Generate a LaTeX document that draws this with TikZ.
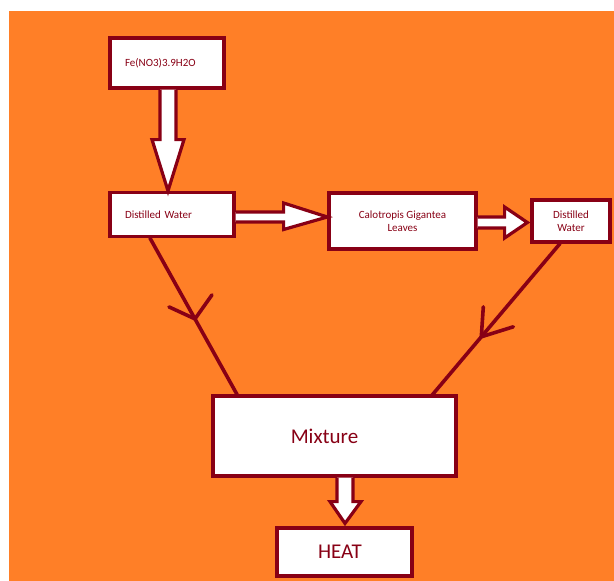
\documentclass[tikz,border=0pt]{standalone}
\usepackage{fontspec}
\setmainfont{Carlito}
\usetikzlibrary{calc}
\definecolor{bgorange}{HTML}{FF7F27}
\definecolor{dred}{HTML}{880015}
\begin{document}
\begin{tikzpicture}[x=1pt,y=-1pt,
  box/.style={draw=dred,fill=white,line width=3.2pt,inner sep=0pt,text=dred,font=\fontsize{11}{13.5}\selectfont},
  bigbox/.style={box,font=\fontsize{21}{24}\selectfont},
  blockarrow/.style={draw=dred,fill=white,line width=3.2pt,line join=miter},
  conn/.style={draw=dred,line width=3.6pt,line cap=round},
  wing/.style={draw=dred,line width=3.6pt,line cap=round}]
\useasboundingbox (0,0) rectangle (614,581);
\fill[white] (0,0) rectangle (614,581);
\fill[bgorange] (9,11) rectangle (614,581);
% nodes
\node[box,minimum width=114pt,minimum height=50pt,text width=84pt,align=left] (fe) at (167,63) {Fe(NO3)3.9H2O};
\node[box,minimum width=124pt,minimum height=44pt,text width=94pt,align=left] (dw) at (172,214.5) {Distilled Water};
\node[box,minimum width=147pt,minimum height=56pt,align=center] (cal) at (402.5,221) {Calotropis Gigantea\\Leaves};
\node[box,minimum width=78pt,minimum height=42pt,align=center] (dw2) at (571,221) {Distilled\\Water};
\node[bigbox,minimum width=243pt,minimum height=80pt] (mix) at (334.5,436) {\hspace*{-20pt}Mixture};
\node[bigbox,minimum width=135pt,minimum height=48pt] (heat) at (344.5,552) {\hspace*{-9pt}HEAT};
% block arrow fe -> dw
\draw[blockarrow] ($(fe.south)+(-7,0)$) -- ++(0,50) -- ++(-8,0) -- ($(dw.north)+(-4,0)$) -- ($(fe.south)+(17,50)$) -- ++(-8,0) -- ($(fe.south)+(9,0)$);
% block arrow dw -> cal
\draw[blockarrow] ($(dw.east)+(0,-2.5)$) -- ++(48,0) -- ++(0,-9) -- ($(cal.west)+(0,-4)$) -- ($(dw.east)+(48,15)$) -- ++(0,-7.5) -- ($(dw.east)+(0,7.5)$);
% block arrow cal -> dw2
\draw[blockarrow] ($(cal.east)+(0,-4)$) -- ++(27,0) -- ++(0,-10) -- ($(dw2.west)+(-3,1.5)$) -- ($(cal.east)+(27,17)$) -- ++(0,-10) -- ($(cal.east)+(0,7)$);
% block arrow mix -> heat
\draw[blockarrow] ($(mix.south)+(2.5,0)$) -- ++(0,24) -- ++(-7,0) -- ($(heat.north)+(0.5,-3)$) -- ($(mix.south)+(26.5,24)$) -- ++(-8,0) -- ($(mix.south)+(18.5,0)$);
% connectors with open arrowheads
\coordinate (l1) at ($(dw.south)+(-22,0)$);
\coordinate (l2) at ($(mix.north)+(-97.5,0)$);
\draw[conn] (l1) -- (l2);
\coordinate (m1) at ($(l1)!0.517!(l2)$);
\draw[wing] ($(m1)+(-26,-12)$) -- (m1) -- ($(m1)+(17,-24)$);
\coordinate (r1) at ($(dw2.south)+(-11,0)$);
\coordinate (r2) at ($(mix.north)+(96.5,2)$);
\draw[conn] (r1) -- (r2);
\coordinate (m2) at ($(r1)!0.61!(r2)$);
\draw[wing] ($(m2)+(2,-30)$) -- (m2) -- ($(m2)+(32,-10)$);
\end{tikzpicture}
\end{document}
